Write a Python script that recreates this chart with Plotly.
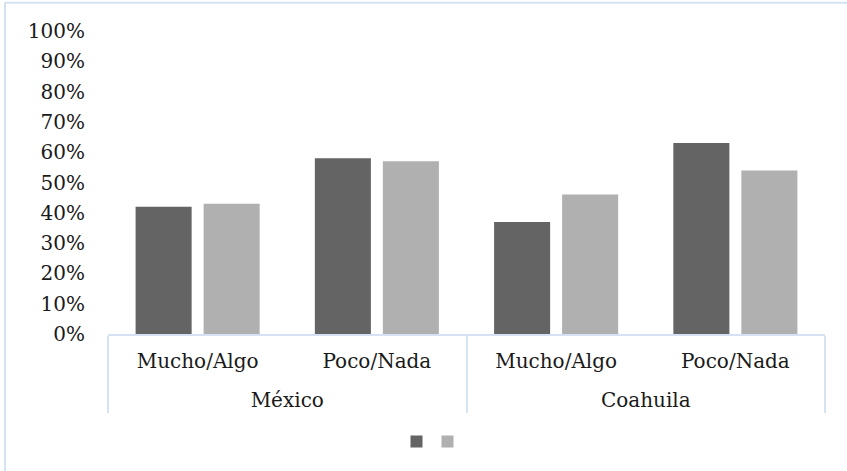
import plotly.graph_objects as go

groups = ["México", "México", "Coahuila", "Coahuila"]
categories = ["Mucho/Algo", "Poco/Nada", "Mucho/Algo", "Poco/Nada"]
series_1 = [0.42, 0.58, 0.37, 0.63]
series_2 = [0.43, 0.57, 0.46, 0.54]
y_ticks = [0, 0.1, 0.2, 0.3, 0.4, 0.5, 0.6, 0.7, 0.8, 0.9, 1.0]

FONT = "DejaVu Serif"
LINE = "#d6e2f1"
L0 = 108
PW = 717

# label text set at 20px; outer-level labels pushed one line lower, as in the reference
cat_labels = ["<span style='font-size:20px'>" + c + "</span>" for c in categories]
group_labels = ["<br><span style='font-size:20px'>" + g + "</span>" for g in groups]

fig = go.Figure()
fig.add_trace(go.Bar(x=[group_labels, cat_labels], y=series_1, name="", legend="legend",
                     marker=dict(color="#646464", line=dict(width=0))))
fig.add_trace(go.Bar(x=[group_labels, cat_labels], y=series_2, name="", legend="legend2",
                     marker=dict(color="#b0b0b0", line=dict(width=0))))

leg_common = dict(orientation="h", y=-0.355, yanchor="middle", xanchor="left",
                  font=dict(size=1), bgcolor="rgba(0,0,0,0)", itemwidth=30)

fig.update_layout(
    width=847, height=471,
    margin=dict(l=L0, r=847 - L0 - PW, t=31, b=137),
    paper_bgcolor="white", plot_bgcolor="white",
    barmode="group", bargap=0.241, bargroupgap=0.176,
    font=dict(family=FONT, size=20, color="#1a1a1a"),
    showlegend=True,
    legend=dict(x=(396.5 - L0) / PW, **leg_common),
    legend2=dict(x=(427.5 - L0) / PW, **leg_common),
    xaxis=dict(type="multicategory", showgrid=False, showline=True, linecolor=LINE,
               linewidth=2, ticks="", ticklabelstandoff=10,
               showdividers=True, dividercolor=LINE, dividerwidth=2,
               tickfont=dict(family=FONT, size=18, color="#1a1a1a")),
    yaxis=dict(range=[0, 1], tickvals=y_ticks, tickformat=".0%", showgrid=False,
               showline=False, zeroline=False, ticks="", ticklabelstandoff=22,
               tickfont=dict(family=FONT, size=20, color="#1a1a1a")),
    shapes=[dict(type="rect", xref="paper", yref="paper",
                 x0=-0.1436, x1=1.1, y0=-0.6, y1=1.093,
                 line=dict(color=LINE, width=2), fillcolor="rgba(0,0,0,0)", layer="below")],
)

fig.write_html("out.html")
